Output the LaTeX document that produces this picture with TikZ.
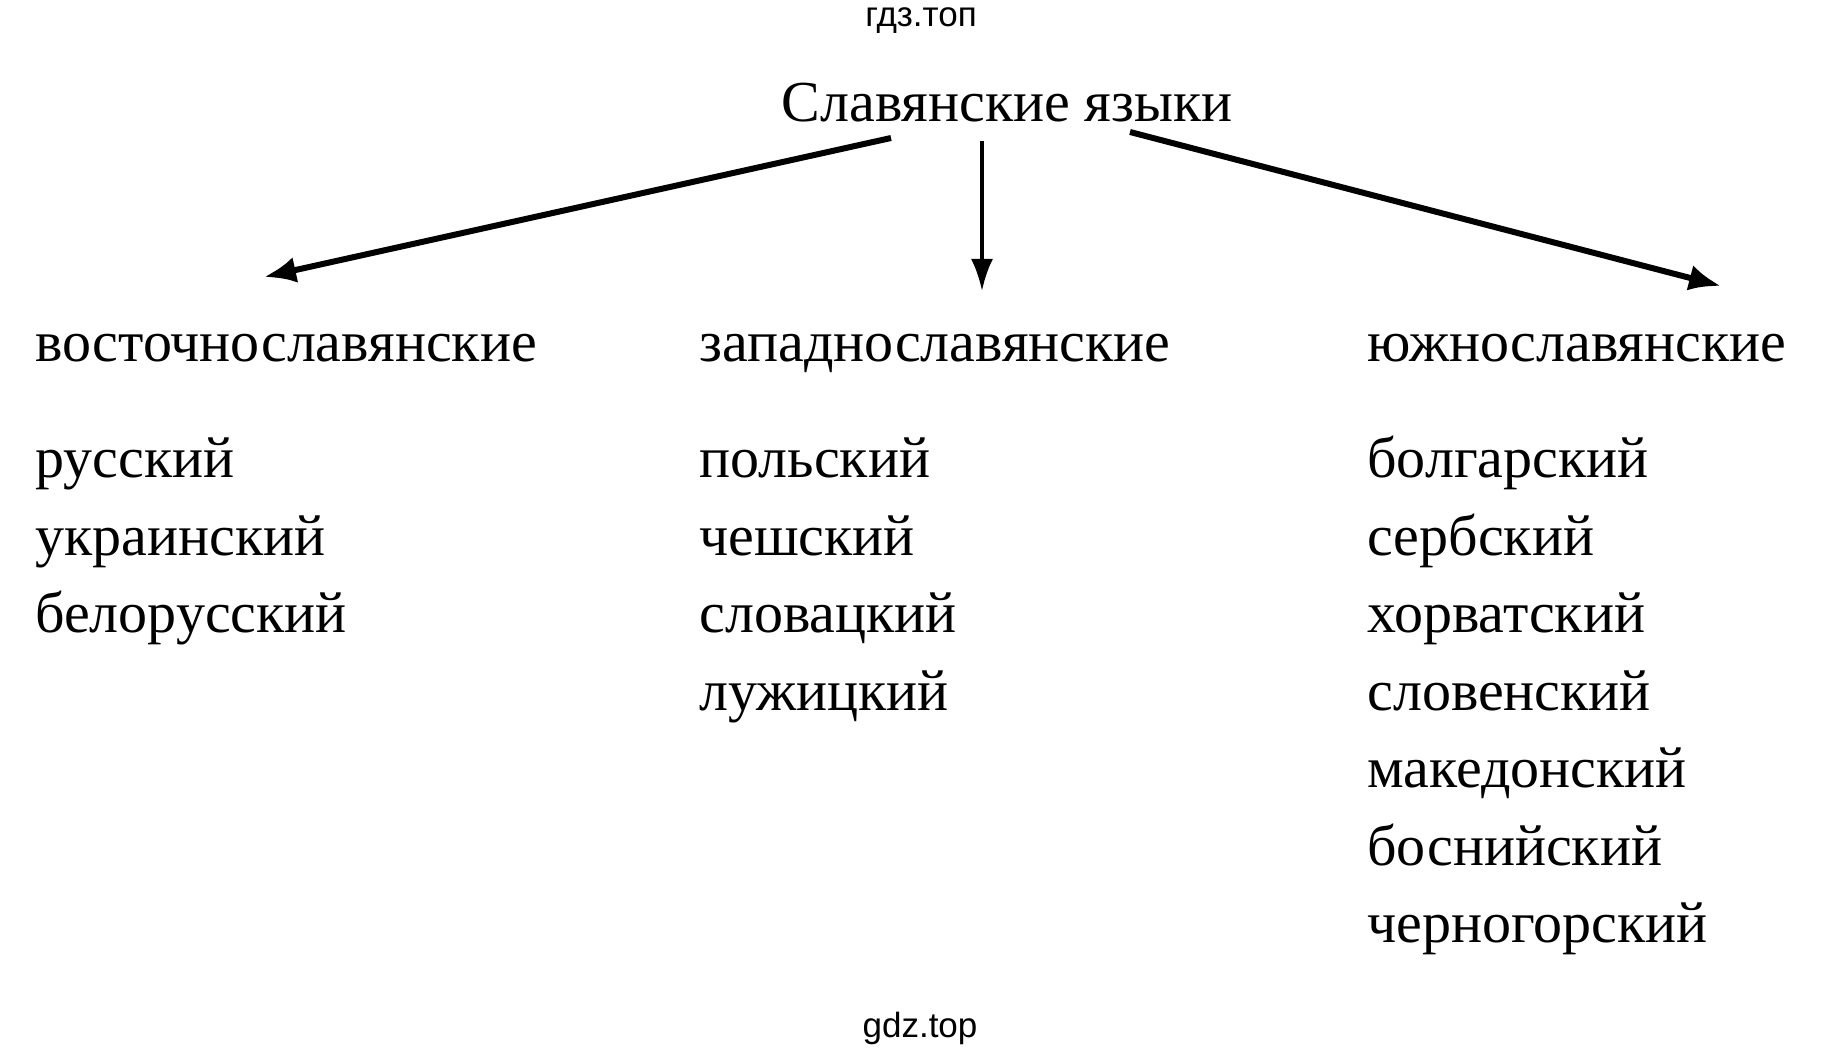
\documentclass[tikz,border=0pt]{standalone}
\usepackage{fontspec}
\setmainfont{Liberation Serif}
\newfontfamily\wmfont{Liberation Sans}
\usetikzlibrary{positioning, arrows.meta}
\tikzset{
  lang/.style={inner sep=0pt, anchor=base west, font=\fontsize{29}{34}\selectfont},
  wmark/.style={inner sep=0pt, font=\wmfont\fontsize{17.5}{21}\selectfont},
  branch/.style={line width=3pt, -{Latex[length=16pt,width=13pt]}},
  thinbranch/.style={line width=2pt, -{Latex[length=16pt,width=11pt]}}
}

\begin{document}
\begin{tikzpicture}[x=0.5pt,y=-0.5pt]
        \useasboundingbox (0,0) rectangle (1837,1053);

		\node[wmark] (top) at (921,21) {гдз.топ};
		\node[wmark] (bottom) at (920,1028) {gdz.top};

		\node[lang, anchor=base] (title) at (1007,122) {Славянские языки};

		\node[lang] (east) at (35,362) {восточнославянские};
		\node[lang] (west) at (699,362) {западнославянские};
		\node[lang] (south) at (1367,362) {южнославянские};

		% languages of each group
		\foreach \lng [count=\i] in {русский,украинский,белорусский}
		\node[lang] (east\i) at (35,{478+77.4*(\i-1)}) {\lng};
		\foreach \lng [count=\i] in {польский,чешский,словацкий,лужицкий}
		\node[lang] (west\i) at (699,{478+77.4*(\i-1)}) {\lng};
		\foreach \lng [count=\i] in {болгарский,сербский,хорватский,словенский,македонский,боснийский,черногорский}
		\node[lang] (south\i) at (1367,{478+77.4*(\i-1)}) {\lng};

		% arrow ends
		\coordinate (eastfrom) at (891,138);
		\coordinate (eastto) at (264,277);
		\coordinate (westfrom) at (982,141);
		\coordinate (westto) at (982,291);
		\coordinate (southfrom) at (1130,132);
		\coordinate (southto) at (1721,286);

		\draw[branch] (eastfrom) -- (eastto);
		\draw[thinbranch] (westfrom) -- (westto);
		\draw[branch] (southfrom) -- (southto);

	\end{tikzpicture}
\end{document}
